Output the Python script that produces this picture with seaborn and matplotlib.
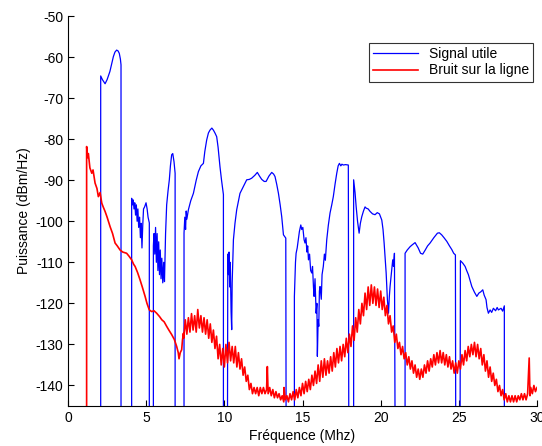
import numpy as np
import pandas as pd
import matplotlib
matplotlib.use("Agg")
import matplotlib.pyplot as plt
import seaborn as sns

# signal utile (blue), bands drop to floor at edges
sig_f = [2.09, 2.09, 2.2, 2.37, 2.5, 2.68, 2.8, 2.9, 3.0, 3.11, 3.2, 3.28, 3.35, 3.39, 3.39,
         4.07, 4.07, 4.12, 4.17, 4.22, 4.27, 4.32, 4.37, 4.42, 4.47, 4.52, 4.58, 4.63, 4.68, 4.73,
         4.78, 4.83, 4.9, 4.99, 5.06, 5.12, 5.2, 5.2,
         5.46, 5.46, 5.5, 5.55, 5.6, 5.65, 5.7, 5.75, 5.8, 5.85, 5.9, 5.95, 6.0, 6.06, 6.12, 6.17,
         6.24, 6.31, 6.4, 6.48, 6.55, 6.63, 6.7, 6.78, 6.85, 6.85,
         7.42, 7.42, 7.47, 7.52, 7.56, 7.6, 7.7, 7.85, 8.02, 8.2, 8.34, 8.5, 8.66, 8.75, 8.87,
         8.98, 9.08, 9.2, 9.3, 9.4, 9.51, 9.6, 9.72, 9.82, 9.94, 9.94,
         10.2, 10.22, 10.27, 10.3, 10.34, 10.38, 10.43, 10.47, 10.5, 10.58, 10.68, 10.79, 11.0,
         11.22, 11.43, 11.6, 11.75, 11.95, 12.11, 12.25, 12.39, 12.55, 12.67, 12.85, 13.03,
         13.15, 13.24, 13.35, 13.46, 13.57, 13.67, 13.78, 13.93, 13.95,
         14.48, 14.48, 14.55, 14.59, 14.66, 14.73, 14.8, 14.89, 14.95, 15.02, 15.1, 15.16, 15.22,
         15.28, 15.33, 15.38, 15.45, 15.52, 15.59, 15.64, 15.7, 15.74, 15.8, 15.87, 15.92, 15.95,
         16.0, 16.04, 16.08, 16.12, 16.2, 16.25, 16.33, 16.4, 16.46, 16.55, 16.65, 16.76, 16.87,
         16.97, 17.08, 17.19, 17.28, 17.36, 17.45, 17.52, 17.61, 17.75, 17.93, 17.96,
         18.27, 18.27, 18.36, 18.43, 18.52, 18.62, 18.7, 18.79, 18.9, 19.0, 19.07, 19.2, 19.32,
         19.48, 19.64, 19.78, 19.92, 20.07, 20.15, 20.22, 20.28, 20.35, 20.43, 20.5, 20.55, 20.6,
         20.7, 20.77, 20.82, 20.88, 20.92,
         21.56, 21.56, 21.7, 21.88, 22.0, 22.2, 22.4, 22.55, 22.69, 22.85, 23.0, 23.16, 23.4,
         23.63, 23.75, 23.9, 24.05, 24.23, 24.4, 24.55, 24.67, 24.78, 24.8,
         25.08, 25.1, 25.25, 25.4, 25.5, 25.61, 25.72, 25.83, 26.0, 26.15, 26.28, 26.4, 26.53,
         26.62, 26.74, 26.8, 26.89, 27.0, 27.1, 27.21, 27.35, 27.45, 27.53, 27.7, 27.8, 27.91, 27.91]
sig_db = [-150, -64.6, -65.5, -66.5, -65.5, -63.5, -61.5, -59.9, -58.8, -58.3, -58.5, -59.1, -60.5, -61.9, -150,
          -150, -94.4, -96, -94.8, -97, -95.5, -98.5, -96, -100, -97, -101.5, -99, -104, -100.5, -106.5,
          -101, -97, -96.5, -95.5, -97, -99, -100.4, -150,
          -150, -106, -103, -108, -101.5, -110, -103, -112, -105, -113, -107, -114, -109, -115, -110, -114.7,
          -103, -96, -92.5, -89.9, -86.5, -83.8, -83.5, -85.5, -88.3, -150,
          -150, -102.9, -99, -102, -97.5, -99.5, -97.2, -95, -93.2, -90, -87.9, -86.5, -85.9, -83, -80.2,
          -78.5, -77.8, -77.3, -77.8, -78.5, -79.4, -82, -86.7, -90, -93.5, -150,
          -150, -108, -113, -107.5, -116, -110, -122, -126.4, -115, -104.5, -100.5, -97.2, -93.2,
          -91.5, -89.9, -89.8, -89.5, -88.8, -88.1, -89, -89.8, -90.3, -90.3, -89, -88.1,
          -88.5, -89.1, -91, -93.2, -96, -98.9, -103.3, -104.1, -150,
          -150, -118.3, -110, -107.8, -106.5, -104.5, -102.5, -100.9, -102, -101.5, -104.5, -105.3, -104,
          -107.5, -106, -109.4, -108, -112, -112.6, -111, -116, -118.3, -114, -122.4, -120, -132.9,
          -124, -125.6, -117, -115.9, -119, -113, -111, -108, -109.5, -104.5, -101, -98, -96,
          -94, -91, -88.3, -86.5, -85.9, -86.5, -86.1, -86.3, -86.2, -86.3, -150,
          -150, -89.9, -93, -96.4, -100, -102.9, -100.5, -98.9, -97.5, -96.5, -96.8, -97, -97.6,
          -98.2, -98.4, -97.9, -98.2, -99.7, -102, -105.3, -108.5, -112.6, -119.1, -122.4, -118.5, -115.9,
          -112, -109.4, -111, -107.8, -150,
          -150, -107.8, -107, -106.2, -105.8, -105.2, -106.5, -107.8, -108, -107, -106, -105.3, -104,
          -102.9, -102.8, -103.3, -104, -104.9, -106, -106.9, -107.8, -108.2, -150,
          -150, -109.6, -110.2, -111, -112, -113, -114.5, -115.9, -117.3, -118.3, -117.5, -117.2, -116.7,
          -118, -119.1, -121, -122.4, -121.6, -122.2, -121.2, -121.8, -121, -121.6, -121.2, -121.9, -120.6, -150]

# bruit sur la ligne (red), read point by point incl. the noise band
bruit_f = [1.19, 1.19, 1.25, 1.3, 1.4, 1.52, 1.6, 1.73, 1.85, 1.94, 2.05, 2.16, 2.25, 2.37, 2.5,
           2.69, 2.85, 3.01, 3.15, 3.33, 3.5, 3.75, 3.9, 4.07, 4.2, 4.29, 4.45, 4.61, 4.75, 4.93,
           5.05, 5.2, 5.35, 5.5, 5.67, 5.85, 6.0, 6.15, 6.31, 6.45, 6.63, 6.8, 6.95, 7.05, 7.1,
           7.18, 7.27, 7.32, 7.38,
           7.4, 7.5, 7.6, 7.7, 7.8, 7.9, 8.0, 8.1, 8.2, 8.3, 8.4, 8.5, 8.6, 8.7, 8.8, 8.9,
           9.0, 9.1, 9.2, 9.3, 9.4, 9.5, 9.6, 9.7, 9.8, 9.9, 10.0, 10.1, 10.2, 10.3, 10.4, 10.5,
           10.6, 10.7, 10.8, 10.9, 11.0, 11.1, 11.2, 11.3, 11.4, 11.5, 11.6, 11.7, 11.8, 11.9,
           12.0, 12.1, 12.2, 12.3, 12.4, 12.5, 12.6, 12.7, 12.75, 12.8, 12.9, 13.0, 13.1, 13.2,
           13.3, 13.4, 13.5, 13.6, 13.7, 13.8, 13.82, 13.9, 14.0, 14.1, 14.2, 14.3, 14.4, 14.5,
           14.6, 14.7, 14.8, 14.9, 15.0, 15.1, 15.2, 15.3, 15.4, 15.5, 15.6, 15.7, 15.8, 15.9,
           16.0, 16.1, 16.2, 16.3, 16.4, 16.5, 16.6, 16.7, 16.8, 16.9, 17.0, 17.1, 17.2, 17.3,
           17.4, 17.5, 17.6, 17.7, 17.8, 17.9, 18.0, 18.1, 18.2, 18.3, 18.4, 18.5, 18.6, 18.7,
           18.8, 18.9, 19.0, 19.1, 19.2, 19.3, 19.4, 19.5, 19.6, 19.7, 19.8, 19.9, 20.0, 20.1,
           20.2, 20.3, 20.4, 20.5, 20.6, 20.7, 20.8, 20.9, 21.0, 21.1, 21.2, 21.3, 21.4, 21.5,
           21.6, 21.7, 21.8, 21.9, 22.0, 22.1, 22.2, 22.3, 22.4, 22.5, 22.6, 22.7, 22.8, 22.9,
           23.0, 23.1, 23.2, 23.3, 23.4, 23.5, 23.6, 23.7, 23.8, 23.9, 24.0, 24.1, 24.2, 24.3,
           24.4, 24.5, 24.6, 24.7, 24.8, 24.9, 25.0, 25.1, 25.2, 25.3, 25.4, 25.5, 25.6, 25.7,
           25.8, 25.9, 26.0, 26.1, 26.2, 26.3, 26.4, 26.5, 26.6, 26.7, 26.8, 26.9, 27.0, 27.1,
           27.2, 27.3, 27.4, 27.5, 27.6, 27.7, 27.8, 27.9, 28.0, 28.1, 28.2, 28.3, 28.4, 28.5,
           28.6, 28.7, 28.8, 28.9, 29.0, 29.1, 29.2, 29.3, 29.4, 29.5, 29.55, 29.6, 29.7, 29.8,
           29.9, 30.0]
bruit_db = [-150, -81.8, -84.5, -83.5, -87, -88.3, -87.5, -90.7, -92, -94, -93, -95.6, -96.5, -97.6, -99,
            -101.3, -103, -105.3, -106, -107, -107.5, -107.8, -108.5, -109.4, -110.5, -111, -112.5, -114.3, -116, -118.3,
            -120, -121.6, -122, -121.8, -122.4, -123.2, -124, -124.5, -125.6, -126.5, -127.6, -128.8, -130.5, -132, -133.5,
            -132, -131.3, -129, -127.3,
            -128.5, -124, -127.5, -123.5, -127, -122.5, -126.5, -123, -127, -121.5, -126, -123, -127, -123.5, -127.5, -124,
            -128.5, -125, -129.5, -126.5, -131, -128, -133.5, -130, -135, -131, -135.5, -130, -134.5, -129.5, -134, -130.5,
            -134.5, -130.5, -135.5, -132, -136, -133.5, -137.5, -135.5, -139, -137.5, -141, -139.5, -142, -140.5,
            -142, -140.5, -142.5, -140.5, -142, -140.5, -142, -141, -135.4, -142, -140.5, -142.5, -141, -143,
            -141.5, -143, -142, -143.5, -142.5, -144, -140.5, -143.5, -142.5, -144, -142, -143.5, -141.5, -143.5,
            -141, -143, -140.5, -142.5, -139.5, -142, -139, -141.5, -138.5, -141, -137.5, -140, -136.5, -139.5,
            -135, -139, -134, -138, -133.5, -137.5, -134, -137, -133, -136.5, -132, -135.5, -131, -134.5,
            -130.5, -134, -130, -133, -128.5, -132, -127.5, -130.5, -125.5, -129, -123.5, -127, -121.5, -125,
            -120, -123, -117.5, -121.5, -116, -120.5, -115.5, -120, -116, -120.5, -116.5, -121, -117, -121.5,
            -118.5, -123, -120.5, -125, -123, -127, -125.5, -129.5, -127.5, -131, -129.5, -132.5, -130.5, -133.5,
            -132, -135, -133, -136, -134, -137, -135, -138, -136, -138.5, -136, -138, -135, -137,
            -134, -136.5, -133.5, -135.5, -132.5, -135, -132, -134.5, -131.5, -134.5, -132, -135, -132.5, -135.5,
            -133, -136, -134, -137, -134.5, -137, -134, -136, -132.5, -135, -131.5, -134, -130.5, -133,
            -130, -132.5, -129.5, -133, -130, -133.5, -131, -135, -132.5, -136.5, -134, -138, -135.5, -139,
            -137, -140, -138.5, -141.5, -140, -142.5, -141, -143.5, -142, -144, -142.5, -144, -142.5, -144,
            -142.5, -144, -142.5, -143.5, -142, -143.5, -142, -143.5, -142, -133.3, -142.5, -140.5, -142, -140,
            -141.5, -140.5]

plt.rcParams['font.family'] = ['Liberation Sans', 'DejaVu Sans']
plt.rcParams['axes.unicode_minus'] = False

fig = plt.figure(figsize=(5.42, 4.46), dpi=100)
ax = fig.add_axes([0.1255, 0.0897, 0.8653, 0.8744])

sns.lineplot(x=sig_f, y=sig_db, sort=False, estimator=None, color='#0000ff',
             linewidth=0.9, label='Signal utile', ax=ax)
sns.lineplot(x=bruit_f, y=bruit_db, sort=False, estimator=None, color='#ff0000',
             linewidth=1.2, label='Bruit sur la ligne', ax=ax)

ax.set_xlim(0, 30)
ax.set_ylim(-145, -50)
ax.set_xticks(range(0, 31, 5))
ax.set_yticks(range(-140, -49, 10))
ax.tick_params(direction='in', length=4, labelsize=10, width=0.8)
ax.spines['top'].set_visible(False)
ax.spines['right'].set_visible(False)
for s in ['left', 'bottom']:
    ax.spines[s].set_linewidth(0.8)
ax.set_xlabel('Fréquence (Mhz)', fontsize=10, labelpad=3)
ax.set_ylabel('Puissance (dBm/Hz)', fontsize=10, labelpad=3)

leg = ax.legend(loc='upper right', bbox_to_anchor=(0.992, 0.932), fontsize=10,
                frameon=True, fancybox=False, borderpad=0.3, handlelength=3.2,
                labelspacing=0.2, borderaxespad=0)
leg.get_frame().set_edgecolor('black')
leg.get_frame().set_linewidth(0.8)

fig.savefig('out.png', dpi=100)
